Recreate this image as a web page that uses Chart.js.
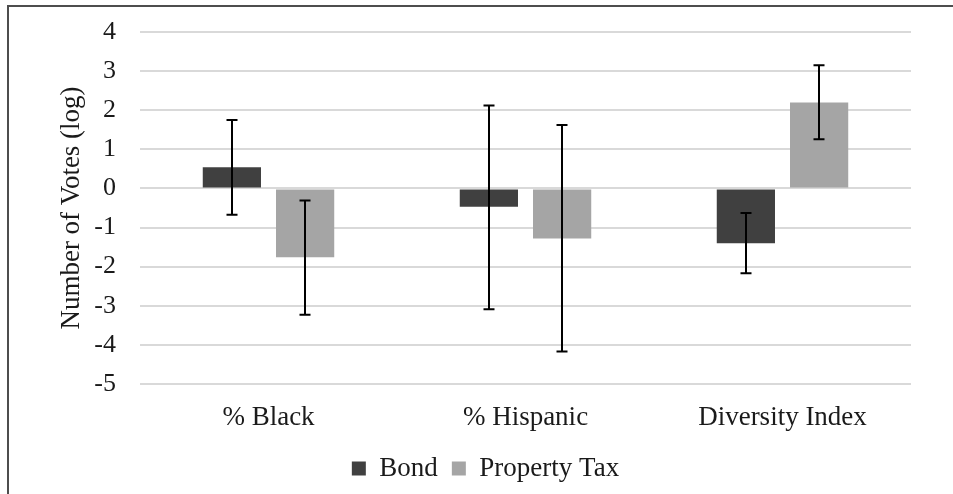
<!DOCTYPE html>
<html>
<head>
<meta charset="utf-8">
<script src="https://cdn.jsdelivr.net/npm/chart.js@4.4.1/dist/chart.umd.min.js"></script>
<style>
  html, body { margin: 0; padding: 0; background: #fff; }
  #wrap { width: 953px; height: 494px; position: relative; }
</style>
</head>
<body>
<div id="wrap"><canvas id="c"></canvas></div>
<script>
// Categories and series
const categories = ['% Black', '% Hispanic', 'Diversity Index'];
const seriesNames = ['Bond', 'Property Tax'];

const bondValues = [0.54, -0.47, -1.40];
const bondLow    = [-0.67, -3.09, -2.17];
const bondHigh   = [1.75, 2.12, -0.63];

const taxValues = [-1.76, -1.28, 2.20];
const taxLow    = [-3.23, -4.17, 1.26];
const taxHigh   = [-0.31, 1.62, 3.15];

const yTicks = [4, 3, 2, 1, 0, -1, -2, -3, -4, -5];

const serif = 'Liberation Serif';
Chart.defaults.font.family = serif;
Chart.defaults.color = '#1a1a1a';

// Draws the low/high whiskers with caps on top of each bar
const errorBars = {
  id: 'errorBars',
  afterDatasetsDraw(chart) {
    const ctx = chart.ctx;
    const y = chart.scales.y;
    ctx.save();
    ctx.strokeStyle = '#000';
    ctx.lineWidth = 2;
    chart.data.datasets.forEach((ds, di) => {
      const meta = chart.getDatasetMeta(di);
      meta.data.forEach((bar, i) => {
        const x = Math.round(bar.x);
        const yl = y.getPixelForValue(ds.errLow[i]);
        const yh = y.getPixelForValue(ds.errHigh[i]);
        ctx.beginPath();
        ctx.moveTo(x, yh); ctx.lineTo(x, yl);
        ctx.moveTo(x - 5.5, yh); ctx.lineTo(x + 5.5, yh);
        ctx.moveTo(x - 5.5, yl); ctx.lineTo(x + 5.5, yl);
        ctx.stroke();
      });
    });
    ctx.restore();
  }
};

// Outer frame around the chart
const frame = {
  id: 'frame',
  beforeDraw(chart) {
    const ctx = chart.ctx;
    ctx.save();
    ctx.strokeStyle = '#4d4d4d';
    ctx.lineWidth = 2;
    ctx.strokeRect(8, 6, 1200, 1200);
    ctx.restore();
  }
};

new Chart(document.getElementById('c'), {
  type: 'bar',
  data: {
    labels: categories,
    datasets: [
      {
        label: seriesNames[0],
        data: bondValues,
        errLow: bondLow,
        errHigh: bondHigh,
        backgroundColor: '#404040',
        borderWidth: 0,
        categoryPercentage: 0.57,
        barPercentage: 0.795
      },
      {
        label: seriesNames[1],
        data: taxValues,
        errLow: taxLow,
        errHigh: taxHigh,
        backgroundColor: '#a5a5a5',
        borderWidth: 0,
        categoryPercentage: 0.57,
        barPercentage: 0.795
      }
    ]
  },
  options: {
    responsive: true,
    maintainAspectRatio: false,
    animation: false,
    layout: { padding: { left: 60, right: 42, top: 32, bottom: 2 } },
    plugins: {
      tooltip: { enabled: false },
      legend: {
        position: 'bottom',
        labels: {
          font: { family: serif, size: 27 },
          boxWidth: 14,
          boxHeight: 14,
          padding: 14
        }
      }
    },
    scales: {
      x: {
        grid: { display: false, drawTicks: false },
        border: { display: false },
        ticks: {
          font: { family: serif, size: 27 },
          padding: 18
        },
        afterFit(s) { s.height = 57; }
      },
      y: {
        min: -5,
        max: 4,
        afterBuildTicks(s) { s.ticks = yTicks.map(v => ({ value: v })); },
        grid: {
          color: '#d9d9d9',
          lineWidth: 2,
          drawTicks: true,
          tickLength: 17,
          tickColor: 'rgba(0,0,0,0)'
        },
        border: { display: false },
        ticks: {
          font: { family: serif, size: 26 },
          padding: 7
        },
        title: {
          display: true,
          text: 'Number of Votes (log)',
          font: { family: serif, size: 27, lineHeight: 0.9 },
          padding: { top: 0, bottom: 0 }
        },
        afterFit(s) { s.width = 80; }
      }
    }
  },
  plugins: [frame, errorBars]
});
</script>
</body>
</html>
